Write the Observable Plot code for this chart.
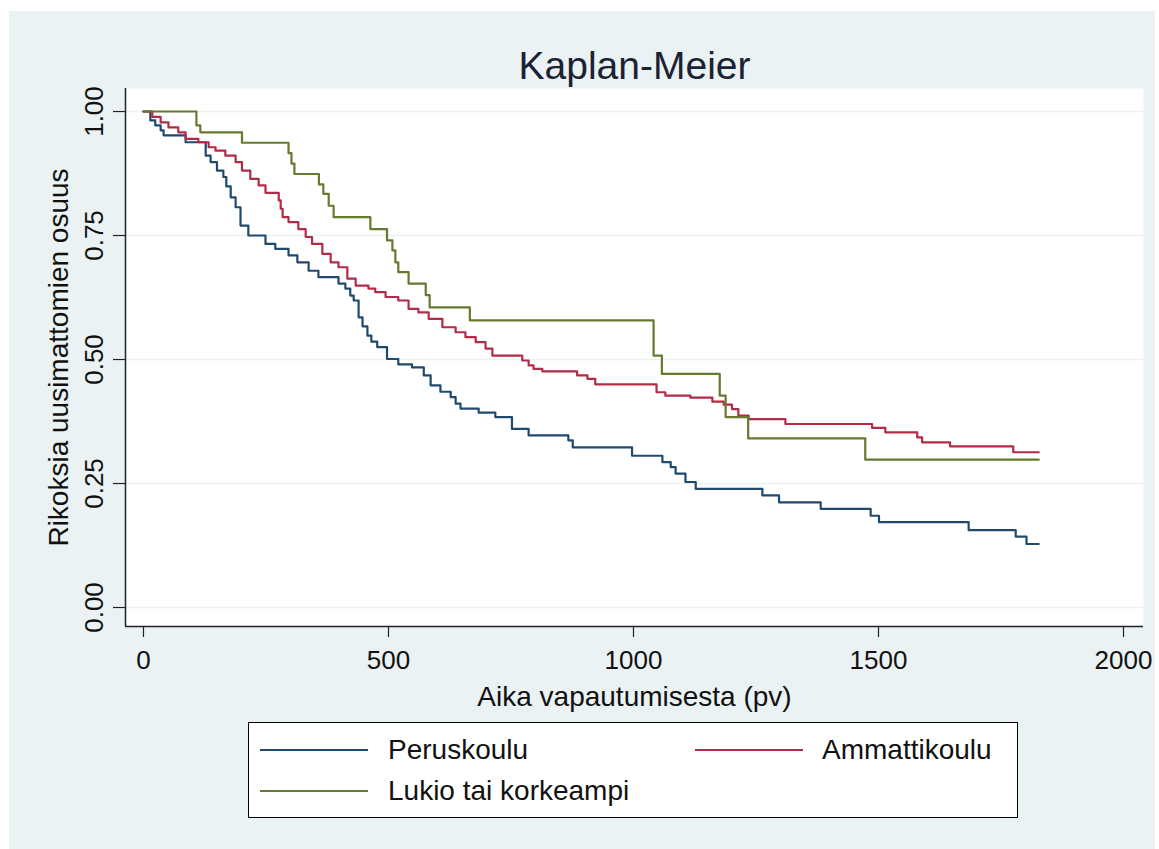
<!DOCTYPE html>
<html>
<head>
<meta charset="utf-8">
<script src="https://cdn.jsdelivr.net/npm/d3@7"></script>
<script src="https://cdn.jsdelivr.net/npm/@observablehq/plot@0.6"></script>
<style>
  html, body { margin: 0; padding: 0; background: #ffffff; }
  #wrap { position: relative; width: 1159px; height: 849px; overflow: hidden; font-family: "Liberation Sans", Arial, sans-serif; }
  #bg { position: absolute; left: 9px; top: 11px; width: 1146px; height: 838px; background: #eaf2f3; }
  #chart { position: absolute; left: 0; top: 0; }
  #legend { position: absolute; left: 248px; top: 722px; width: 770px; height: 96px; box-sizing: border-box;
            border: 1.5px solid #000; background: #fff; }
  .li { position: absolute; height: 0; border-top: 2px solid; width: 108px; }
  .lt { position: absolute; font-size: 28px; color: #111; line-height: 28px; transform: translateY(-50%); white-space: nowrap; }
</style>
</head>
<body>
<div id="wrap">
  <div id="bg"></div>
  <div id="chart"></div>
  <div id="legend"></div>
</div>
<script>
// ---- Data ----
const groups = ["Peruskoulu", "Ammattikoulu", "Lukio tai korkeampi"];
const colors = ["#1f4a6e", "#b32b46", "#657a2e"];

const periTime = [0,14,24,35,41,86,127,137,150,163,169,178,188,198,214,249,269,296,314,337,357,398,412,422,429,439,447,457,465,477,497,520,548,572,586,606,627,637,647,684,718,752,786,867,876,997,1059,1076,1086,1106,1127,1263,1297,1382,1484,1501,1684,1780,1802,1827];
const periSurv = [1,0.982,0.972,0.962,0.952,0.938,0.911,0.898,0.881,0.868,0.849,0.827,0.807,0.77,0.75,0.733,0.723,0.71,0.696,0.679,0.666,0.653,0.643,0.629,0.619,0.585,0.567,0.548,0.536,0.525,0.501,0.49,0.484,0.468,0.448,0.435,0.424,0.411,0.401,0.393,0.384,0.36,0.347,0.337,0.323,0.306,0.293,0.283,0.27,0.253,0.239,0.226,0.212,0.199,0.185,0.172,0.156,0.143,0.128,0.128];

const ammaTime = [0,18,35,51,71,86,112,133,147,167,188,201,218,235,249,276,280,284,296,316,331,344,365,382,398,416,433,459,473,494,520,541,561,582,610,637,657,678,698,712,773,786,796,814,885,906,922,1047,1065,1116,1161,1184,1201,1214,1235,1310,1487,1514,1579,1589,1646,1775,1827];
const ammaSurv = [1,0.989,0.978,0.968,0.958,0.945,0.938,0.928,0.921,0.911,0.898,0.881,0.864,0.851,0.836,0.821,0.804,0.787,0.777,0.763,0.747,0.733,0.713,0.696,0.686,0.663,0.649,0.643,0.636,0.626,0.619,0.602,0.595,0.582,0.565,0.555,0.545,0.535,0.522,0.508,0.498,0.488,0.481,0.476,0.468,0.461,0.45,0.434,0.427,0.423,0.415,0.409,0.40,0.387,0.38,0.37,0.362,0.353,0.343,0.333,0.325,0.313,0.313];

const lukioTime = [0,108,116,201,296,302,308,358,367,378,388,463,497,508,514,520,541,576,584,666,1041,1058,1176,1188,1234,1473,1827];
const lukioSurv = [1,0.972,0.958,0.937,0.916,0.895,0.874,0.853,0.834,0.81,0.787,0.763,0.74,0.72,0.696,0.676,0.653,0.63,0.605,0.579,0.508,0.471,0.427,0.384,0.341,0.298,0.298];

const xTicks = [0, 500, 1000, 1500, 2000];
const yTicks = [0, 0.25, 0.5, 0.75, 1];
const titleText = "Kaplan-Meier";
const xLabel = "Aika vapautumisesta (pv)";
const yLabel = "Rikoksia uusimattomien osuus";

// ---- Build table ----
const series = [[periTime, periSurv], [ammaTime, ammaSurv], [lukioTime, lukioSurv]];
const rows = [];
series.forEach(([ts, ss], i) => ts.forEach((t, j) => rows.push({group: groups[i], t, s: ss[j]})));

const xDom = [-36.7, 2040.8];
const yDom = [-0.0383, 1.0464];

const chart = Plot.plot({
  width: 1159,
  height: 849,
  marginLeft: 125,
  marginRight: 16,
  marginTop: 88,
  marginBottom: 223,
  style: {background: "transparent", fontFamily: "'Liberation Sans', Arial, sans-serif", color: "#111"},
  x: {domain: xDom, label: null},
  y: {domain: yDom, label: null},
  color: {domain: groups, range: colors},
  marks: [
    Plot.frame({fill: "#ffffff", stroke: null}),
    Plot.ruleY(yTicks, {stroke: "#eaf2f3", strokeWidth: 1.5}),
    Plot.line(rows, {x: "t", y: "s", z: "group", stroke: "group", curve: "step-after", strokeWidth: 2.2}),
    Plot.ruleX([xDom[0]], {stroke: "#222", strokeWidth: 1.5}),
    Plot.ruleY([yDom[0]], {stroke: "#222", strokeWidth: 1.5}),
    Plot.axisY({ticks: yTicks, tickSize: 12, tickFormat: () => "", stroke: "#222", strokeWidth: 1.2}),
    Plot.text(yTicks, {y: d => d, text: d => d3.format(".2f")(d), frameAnchor: "left", dx: -31, rotate: -90,
                       fontSize: 26, textAnchor: "middle", lineAnchor: "middle", fill: "#111"}),
    Plot.axisX({ticks: xTicks, tickFormat: d3.format("d"), tickSize: 11, tickPadding: 13, fontSize: 26, stroke: "#222", strokeWidth: 1.2, fill: "#111", label: null}),
    Plot.text([xLabel], {text: d => d, frameAnchor: "bottom", dy: 71, fontSize: 28, textAnchor: "middle", lineAnchor: "middle", fill: "#111"}),
    Plot.text([yLabel], {text: d => d, frameAnchor: "left", dx: -66, rotate: -90, fontSize: 28, textAnchor: "middle", lineAnchor: "middle", fill: "#111"}),
    Plot.text([titleText], {text: d => d, frameAnchor: "top", dy: -22, fontSize: 39, textAnchor: "middle", lineAnchor: "middle", fill: "#1a2233"})
  ]
});
document.getElementById("chart").appendChild(chart);

// ---- Legend ----
const legend = document.getElementById("legend");
const pos = [
  {lx: 11, tx: 139, y: 27},
  {lx: 446, tx: 573, y: 27},
  {lx: 11, tx: 139, y: 68}
];
groups.forEach((g, i) => {
  const line = document.createElement("div");
  line.className = "li";
  line.style.left = pos[i].lx + "px";
  line.style.top = (pos[i].y - 1) + "px";
  line.style.borderTopColor = colors[i];
  legend.appendChild(line);
  const txt = document.createElement("div");
  txt.className = "lt";
  txt.style.left = pos[i].tx + "px";
  txt.style.top = pos[i].y + "px";
  txt.textContent = g;
  legend.appendChild(txt);
});
</script>
</body>
</html>
